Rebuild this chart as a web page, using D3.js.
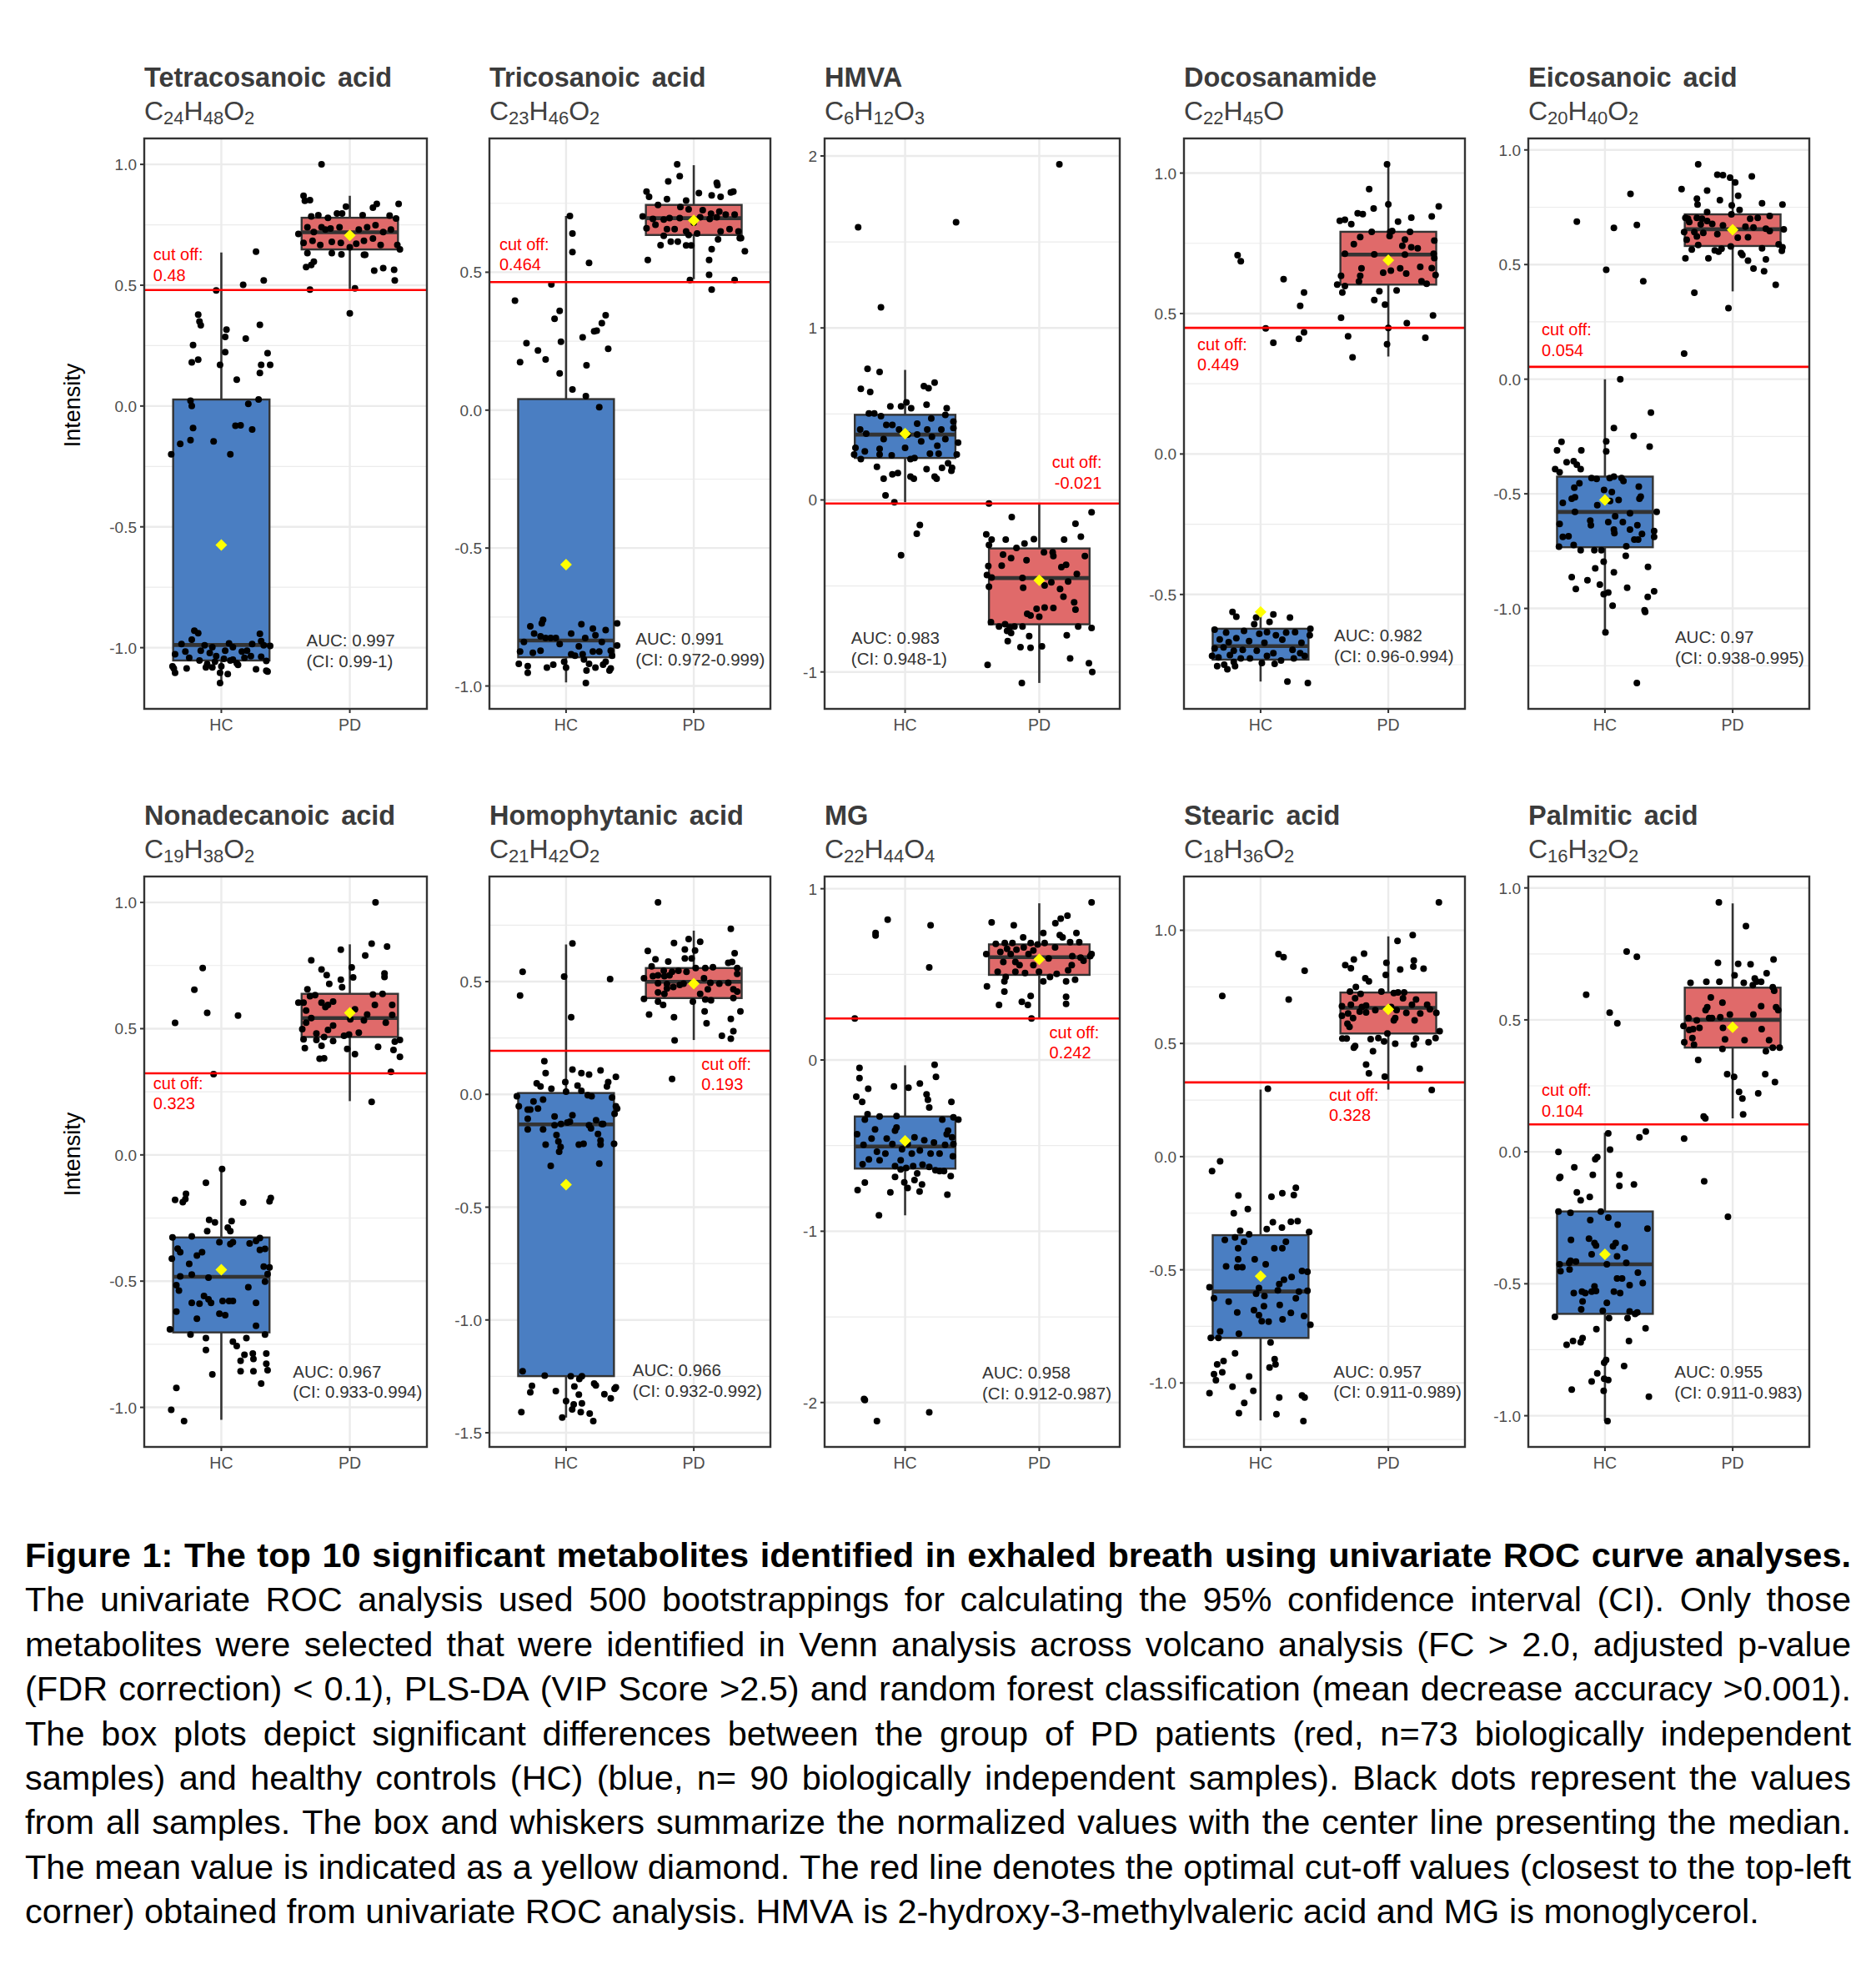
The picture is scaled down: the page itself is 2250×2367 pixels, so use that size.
<!DOCTYPE html>
<html>
<head>
<meta charset="utf-8">
<script src="https://cdnjs.cloudflare.com/ajax/libs/d3/7.8.5/d3.min.js"></script>
<style>
  body { margin: 0; background: #fff; }
  svg text { font-family: "Liberation Sans", Arial, sans-serif; }
</style>
</head>
<body>
<script>
// ---- data ----
var metaboliteNames = ['Tetracosanoic acid', 'Tricosanoic acid', 'HMVA', 'Docosanamide', 'Eicosanoic acid',
  'Nonadecanoic acid', 'Homophytanic acid', 'MG', 'Stearic acid', 'Palmitic acid'];
var formulas = ['C24H48O2', 'C23H46O2', 'C6H12O3', 'C22H45O', 'C20H40O2',
  'C19H38O2', 'C21H42O2', 'C22H44O4', 'C18H36O2', 'C16H32O2'];
var groups = ['HC', 'PD'];

// box stats: [lower whisker, q1, median, q3, upper whisker]
var hcStats = [
  [-1.146, -1.053, -0.989, 0.027, 0.635],
  [-0.987, -0.896, -0.835, 0.04, 0.704],
  [-0.013, 0.244, 0.38, 0.495, 0.756],
  [-0.81, -0.732, -0.684, -0.622, -0.575],
  [-1.104, -0.733, -0.579, -0.425, 0.0],
  [-1.049, -0.703, -0.483, -0.327, -0.056],
  [-1.433, -1.249, -0.133, 0.006, 0.665],
  [-0.907, -0.634, -0.505, -0.33, -0.031],
  [-1.166, -0.801, -0.596, -0.347, 0.296],
  [-1.02, -0.614, -0.426, -0.226, 0.072]
];
var pdStats = [
  [0.484, 0.648, 0.719, 0.779, 0.87],
  [0.475, 0.635, 0.696, 0.744, 0.888],
  [-1.064, -0.723, -0.454, -0.282, -0.026],
  [0.347, 0.603, 0.71, 0.791, 1.031],
  [0.383, 0.581, 0.654, 0.719, 0.873],
  [0.213, 0.467, 0.542, 0.638, 0.834],
  [0.241, 0.427, 0.499, 0.56, 0.726],
  [0.245, 0.497, 0.6, 0.675, 0.915],
  [0.296, 0.544, 0.657, 0.725, 0.973],
  [0.127, 0.395, 0.5, 0.622, 0.941]
];
var hcMeans = [-0.575, -0.56, 0.385, -0.562, -0.527, -0.455, -0.4, -0.472, -0.528, -0.388];
var pdMeans = [0.706, 0.688, -0.467, 0.69, 0.652, 0.563, 0.491, 0.588, 0.651, 0.472];
var cutoffs = [0.48, 0.464, -0.021, 0.449, 0.054, 0.323, 0.193, 0.242, 0.328, 0.104];
var aucValues = ['0.997', '0.991', '0.983', '0.982', '0.97', '0.967', '0.966', '0.958', '0.957', '0.955'];
var ciValues = ['0.99-1', '0.972-0.999', '0.948-1', '0.96-0.994', '0.938-0.995',
  '0.933-0.994', '0.932-0.992', '0.912-0.987', '0.911-0.989', '0.911-0.983'];
var yTicks = [
  [-1, -0.5, 0, 0.5, 1], [-1, -0.5, 0, 0.5], [-1, 0, 1, 2], [-0.5, 0, 0.5, 1], [-1, -0.5, 0, 0.5, 1],
  [-1, -0.5, 0, 0.5, 1], [-1.5, -1, -0.5, 0, 0.5], [-2, -1, 0, 1], [-1, -0.5, 0, 0.5, 1], [-1, -0.5, 0, 0.5, 1]
];
var tickDecimals = [1, 1, 0, 1, 1, 1, 1, 0, 1, 1];

// jittered samples: [jitter offset, intensity]
var hcPoints = [
  [[.27,.639],[.17,.502],[.33,.52],[-.04,.478],[-.18,.378],[-.17,.35],[-.16,.334],[.30,.336],[.04,.316],[.03,.286],[.19,.279],[-.22,.252],[.03,.223],[.36,.219],[-.18,.192],[-.23,.181],[.31,.17],[-.01,.17],[.38,.17],[.30,.137],[.12,.109],[-.24,.022],[-.23,0],[.29,.027],[.21,.009],[-.22,-.091],[-.24,-.141],[.11,-.082],[.15,-.08],[.24,-.097],[-.06,-.146],[-.32,-.157],[-.39,-.2],[.07,-.2],
   [-.21,-.93],[-.18,-.94],[-.23,-.967],[.3,-.943],[-.31,-.985],[.06,-.982],[.24,-.985],[.38,-.993],[.33,-.99],[-.13,-.99],[-.07,-.998],[.09,-.998],[.16,-1.016],[-.09,-1.022],[-.04,-1.035],[.02,-1.046],[-.36,-1.027],[-.28,-1.016],[-.25,-1.042],[-.17,-1.053],[-.11,-1.068],[-.05,-1.058],[.07,-1.053],[.12,-1.064],[.18,-1.042],[.23,-1.035],[.31,-1.038],[.35,-1.055],[-.38,-1.077],[-.36,-1.104],[-.27,-1.086],[-.12,-1.082],[-.07,-1.082],[0,-1.077],[.05,-1.109],[.13,-1.071],[.27,-1.089],[.36,-1.099],[-.01,-1.146],[-.01,-1.104],[.09,-1.05],[.2,-1.013],[.31,-.973],[.35,-1.095],[-.37,-1.086],[.03,-1.013],[-.16,-1.013]],
  [[.03,.704],[.05,.64],[.05,.573],[.18,.534],[-.115,.456],[-.4,.397],[-.05,.36],[-.09,.331],[.31,.344],[.28,.315],[.24,.288],[.22,.286],[.13,.264],[-.31,.243],[-.04,.248],[.33,.222],[-.22,.216],[-.36,.174],[-.16,.184],[.16,.163],[-.05,.133],[.05,.075],[.155,.051],[.26,.011],
   [-.18,-.76],[-.19,-.773],[-.28,-.784],[.12,-.776],[.21,-.792],[.31,-.797],[.4,-.773],[.04,-.81],[-.25,-.81],[-.12,-.826],[-.08,-.826],[-.16,-.826],[-.2,-.82],[-.33,-.84],[.15,-.826],[.23,-.816],[.28,-.84],[.4,-.853],[.1,-.856],[-.36,-.875],[-.26,-.88],[-.2,-.872],[.04,-.885],[.13,-.885],[.21,-.875],[.26,-.875],[.35,-.872],[.36,-.89],[.14,-.904],[.18,-.92],[.23,-.933],[.29,-.923],[.35,-.936],[-.37,-.92],[-.3,-.928],[-.3,-.952],[-.15,-.933],[-.1,-.923],[0,-.933],[.16,-.944],[.34,-.944],[.155,-.989],[-.015,-.912],[.07,-.89],[-.05,-.848],[.31,-.912]],
  [[-.35,1.585],[.38,1.615],[-.18,1.12],[-.28,.762],[-.19,.744],[-.33,.646],[-.26,.628],[.14,.662],[.175,.649],[.22,.682],[-.11,.544],[-.03,.544],[.01,.567],[.045,.533],[.16,.554],[.31,.533],[-.27,.503],[-.23,.503],[-.18,.487],[.195,.474],[.3,.495],[.36,.456],[-.14,.436],[-.095,.436],[-.335,.41],[-.29,.385],[-.045,.41],[.09,.444],[.165,.41],[.27,.41],[.36,.418],[-.16,.354],[.02,.38],[.09,.38],[.2,.367],[.3,.354],[.395,.333],[-.37,.303],[-.3,.282],[-.19,.297],[0,.303],[.12,.341],[.24,.315],[-.38,.264],[-.33,.238],[-.19,.264],[-.1,.259],[.07,.244],[.185,.269],[.25,.269],[.385,.264],[.32,.213],[.04,.238],[-.21,.192],[.16,.179],[.275,.187],[.35,.187],[.345,.169],[-.095,.149],[-.054,.156],[-.16,.123],[.04,.136],[.065,.123],[.22,.136],[.235,.123],[-.146,.026],[-.08,-.013],[.11,-.146],[.087,-.197],[-.03,-.321]],
  [[-.18,.708],[-.155,.686],[.18,.622],[.31,.527],[.34,.575],[.04,.447],[.1,.396],[.3,.41],[.34,.433],
   [-.22,-.562],[-.19,-.579],[-.035,-.582],[.1,-.571],[.23,-.582],[.07,-.598],[-.05,-.606],[-.36,-.625],[-.27,-.636],[-.13,-.63],[-.01,-.64],[.05,-.634],[.12,-.645],[.2,-.636],[.27,-.634],[.39,-.622],[.385,-.645],[-.32,-.66],[-.25,-.67],[-.19,-.656],[-.09,-.666],[.03,-.672],[.17,-.661],[.32,-.672],[-.36,-.692],[-.29,-.688],[-.21,-.7],[-.14,-.697],[-.03,-.7],[.1,-.709],[.25,-.697],[.31,-.709],[-.38,-.719],[-.33,-.724],[-.24,-.716],[-.155,-.728],[-.083,-.728],[.01,-.744],[.11,-.747],[.16,-.735],[.26,-.728],[.345,-.719],[-.34,-.755],[-.26,-.766],[-.2,-.755],[.21,-.81],[.37,-.815],[-.21,-.74],[-.285,-.75],[.05,-.719]],
  [[-.22,.687],[.2,.808],[.07,.66],[.25,.673],[.01,.477],[.3,.427],[.12,0],[.36,-.146],[.07,-.213],[.01,-.271],[.225,-.248],[.35,-.294],[-.34,-.273],[-.375,-.31],[-.185,-.31],[.01,-.315],[-.3,-.362],[-.245,-.358],[-.22,-.373],[-.19,-.392],[-.39,-.392],[-.355,-.406],[-.105,-.431],[-.065,-.435],[.037,-.431],[.07,-.425],[.13,-.431],[.145,-.444],[-.2,-.454],[-.24,-.473],[.265,-.469],[-.007,-.483],[.054,-.492],[-.235,-.515],[-.26,-.521],[.27,-.521],[.28,-.512],[.107,-.527],[-.33,-.54],[.04,-.531],[-.06,-.55],[.405,-.579],[-.235,-.579],[.196,-.585],[.08,-.598],[-.115,-.617],[-.355,-.631],[-.11,-.637],[.026,-.623],[.14,-.623],[.254,-.637],[.385,-.662],[.07,-.656],[.074,-.671],[.196,-.656],[-.33,-.688],[-.285,-.685],[.29,-.675],[.385,-.688],[.23,-.7],[.26,-.7],[-.36,-.731],[-.245,-.723],[-.19,-.746],[-.083,-.746],[-.028,-.746],[.167,-.729],[.163,-.771],[-.01,-.796],[-.076,-.825],[.337,-.819],[.07,-.842],[-.26,-.863],[-.137,-.877],[-.04,-.896],[-.228,-.915],[.174,-.91],[.385,-.925],[-.01,-.938],[.026,-.931],[.335,-.95],[.06,-.988],[.31,-1.008],[.315,-1.015],[.004,-1.104],[.25,-1.325]],
  [[-.36,.523],[-.21,.654],[-.145,.74],[-.11,.563],[.13,.552],[-.06,.32],[.006,-.056],[-.12,-.11],[-.275,-.154],[-.28,-.175],[-.36,-.178],[-.3,-.187],[.17,-.189],[.385,-.171],[.375,-.184],[-.095,-.257],[-.05,-.267],[.08,-.262],[.05,-.288],[.07,-.302],[-.11,-.302],[-.23,-.323],[-.38,-.327],[-.015,-.346],[.07,-.353],[.09,-.346],[.22,-.351],[.27,-.341],[.3,-.329],[-.34,-.371],[-.32,-.385],[-.15,-.385],[-.19,-.399],[.3,-.376],[.34,-.372],[-.385,-.411],[-.25,-.432],[.33,-.442],[.375,-.446],[-.32,-.481],[-.23,-.474],[-.1,-.486],[.36,-.472],[.34,-.502],[-.35,-.516],[-.33,-.537],[.21,-.524],[-.135,-.559],[-.1,-.572],[-.23,-.586],[-.17,-.589],[-.08,-.586],[.01,-.579],[.06,-.579],[.09,-.579],[.27,-.586],[-.35,-.621],[-.19,-.649],[-.015,-.629],[.03,-.635],[.27,-.677],[-.4,-.691],[-.24,-.712],[-.12,-.726],[.09,-.74],[.12,-.757],[.195,-.726],[.34,-.712],[-.12,-.773],[.18,-.792],[.245,-.787],[.35,-.787],[.15,-.816],[.25,-.808],[.35,-.827],[.15,-.857],[.25,-.857],[.36,-.853],[-.07,-.869],[.31,-.906],[-.35,-.923],[-.39,-1.01],[-.29,-1.054]],
  [[.05,.669],[-.34,.544],[-.36,.438],[-.015,.522],[.345,.511],[.04,.342],[-.17,.147],[-.16,.094],[.05,.11],[.12,.094],[.18,.088],[.27,.106],[.39,.078],[.33,.055],[.32,.035],[-.23,.049],[-.2,.035],[-.115,.025],[-.006,.055],[.09,.039],[.12,.016],[0,.012],[.17,-.004],[.2,-.008],[-.385,-.008],[.36,-.014],[-.18,-.023],[-.255,-.031],[-.37,-.053],[-.3,-.067],[-.28,-.067],[-.22,-.063],[.39,-.053],[.4,-.063],[.38,-.086],[-.09,-.098],[-.3,-.108],[.05,-.092],[.235,-.115],[.29,-.131],[.01,-.125],[.03,-.121],[-.09,-.137],[-.04,-.131],[.18,-.137],[.195,-.151],[.28,-.131],[-.3,-.155],[-.18,-.155],[-.075,-.18],[.25,-.176],[-.06,-.209],[.27,-.204],[-.16,-.223],[-.043,-.233],[.1,-.223],[.137,-.219],[.27,-.223],[.376,-.219],[-.054,-.254],[.26,-.307],[-.12,-.317],
   [-.34,-1.227],[-.167,-1.247],[.037,-1.25],[.124,-1.25],[.104,-1.262],[-.267,-1.292],[.22,-1.282],[.233,-1.29],[.065,-1.295],[.39,-1.299],[.38,-1.305],[-.28,-1.321],[-.08,-1.315],[.1,-1.331],[.3,-1.329],[.35,-1.348],[0,-1.36],[.06,-1.374],[.124,-1.37],[.048,-1.397],[-.35,-1.409],[.115,-1.409],[.185,-1.415],[-.03,-1.433],[.213,-1.448]],
  [[-.13,.82],[-.22,.742],[-.22,.727],[.19,.786],[.18,.541],[-.375,.242],[-.3,-1.985],[-.306,-1.979],[-.21,-2.108],[.18,-2.057],[-.34,-.046],[.22,-.028],[-.34,-.106],[.23,-.098],[.11,-.137],[-.275,-.168],[-.083,-.155],[.025,-.162],[.16,-.201],[-.364,-.214],[.17,-.232],[-.32,-.245],[.18,-.278],[.345,-.245],[-.28,-.317],[-.19,-.33],[-.064,-.327],[-.3,-.348],[.277,-.348],[.36,-.335],[.397,-.348],[-.224,-.405],[-.064,-.394],[-.075,-.412],[-.358,-.433],[.32,-.412],[-.25,-.459],[-.137,-.459],[.07,-.451],[.31,-.433],[.35,-.451],[-.31,-.495],[-.095,-.49],[.019,-.49],[.143,-.469],[.215,-.482],[.298,-.495],[.36,-.49],[-.21,-.536],[-.147,-.546],[-.023,-.521],[.05,-.546],[.11,-.528],[.19,-.546],[.257,-.546],[.356,-.562],[-.27,-.58],[-.19,-.585],[-.033,-.585],[-.317,-.608],[-.075,-.619],[.06,-.619],[.13,-.611],[.18,-.624],[.226,-.644],[.257,-.649],[.29,-.649],[-.033,-.639],[.008,-.631],[.09,-.662],[-.075,-.683],[.34,-.678],[-.006,-.714],[.07,-.701],[.126,-.727],[.019,-.747],[-.3,-.716],[-.354,-.76],[-.11,-.773],[.108,-.768],[.315,-.786],[-.195,-.907]],
  [[-.3,.71],[.14,.895],[.18,.881],[.345,.821],[.22,.694],[.057,.3],[-.317,-.021],[-.38,-.064],[-.174,-.172],[.085,-.177],[.17,-.162],[.26,-.17],[.276,-.138],[-.1,-.232],[-.21,-.25],[.096,-.29],[.237,-.288],[.29,-.285],[.167,-.314],[-.16,-.327],[.048,-.32],[.38,-.333],[-.09,-.343],[-.2,-.357],[-.28,-.368],[-.13,-.376],[.198,-.376],[-.176,-.405],[.107,-.405],[.17,-.405],[-.176,-.454],[-.046,-.454],[-.27,-.485],[-.183,-.489],[-.143,-.489],[.04,-.476],[.324,-.505],[.367,-.509],[.243,-.532],[.183,-.544],[.146,-.563],[-.4,-.577],[-.013,-.581],[.135,-.591],[.3,-.596],[.367,-.593],[-.365,-.626],[-.035,-.606],[.03,-.616],[.276,-.626],[-.25,-.641],[.15,-.655],[.026,-.661],[-.052,-.678],[-.183,-.688],[-.013,-.7],[.237,-.69],[.34,-.704],[.172,-.719],[.009,-.727],[.063,-.729],[.39,-.743],[-.317,-.772],[-.33,-.801],[-.17,-.782],[-.39,-.801],[.078,-.821],[-.2,-.869],[.11,-.895],[.117,-.918],[.07,-.932],[-.34,-.918],[-.29,-.903],[-.365,-.961],[-.35,-.988],[-.3,-.953],[-.09,-.971],[-.22,-1.016],[-.4,-1.045],[-.057,-1.035],[-.128,-1.088],[.146,-1.064],[.324,-1.055],[.345,-1.064],[-.17,-1.133],[.124,-1.138],[.335,-1.168]],
  [[-.147,.595],[.037,.527],[.097,.487],[.17,.759],[.25,.739],[.026,.07],[.32,.077],[.27,.055],[.04,.008],[-.364,0],[-.06,-.02],[-.076,-.028],[-.24,-.059],[-.35,-.095],[-.357,-.099],[-.095,-.087],[.113,-.087],[.113,-.129],[.227,-.124],[-.22,-.154],[-.119,-.171],[-.19,-.184],[-.364,-.226],[-.27,-.231],[-.032,-.226],[.026,-.249],[-.115,-.259],[.1,-.276],[.333,-.291],[-.266,-.334],[-.125,-.329],[-.082,-.346],[-.07,-.355],[.084,-.346],[.063,-.358],[.156,-.363],[-.104,-.388],[.095,-.396],[-.27,-.413],[-.227,-.416],[-.355,-.426],[-.28,-.421],[.015,-.426],[.167,-.421],[-.348,-.452],[-.277,-.446],[.258,-.458],[.095,-.48],[.134,-.48],[.296,-.497],[.193,-.505],[-.082,-.51],[-.244,-.535],[-.18,-.53],[-.154,-.535],[-.104,-.53],[-.07,-.527],[.07,-.53],[.119,-.535],[-.175,-.567],[.015,-.572],[-.186,-.597],[-.017,-.602],[.193,-.605],[.236,-.614],[.253,-.609],[.177,-.63],[.032,-.63],[-.392,-.625],[-.067,-.672],[.318,-.669],[-.3,-.731],[-.25,-.717],[-.19,-.722],[-.175,-.706],[.188,-.717],[.009,-.789],[-.006,-.799],[.15,-.812],[-.06,-.839],[-.006,-.86],[.026,-.865],[-.104,-.87],[-.01,-.906],[-.26,-.901],[.344,-.928],[.02,-1.02]]
];
var pdPoints = [
  [[-.22,1.0],[-.36,.87],[-.35,.849],[-.31,.852],[-.03,.825],[.18,.821],[.21,.836],[.38,.836],[-.3,.785],[-.245,.79],[-.1,.797],[-.06,.797],[.1,.79],[.31,.788],[.36,.776],[-.17,.779],[-.4,.712],[-.33,.74],[-.28,.72],[-.22,.74],[-.19,.73],[-.15,.735],[-.08,.74],[.07,.73],[.135,.74],[.2,.748],[.26,.72],[.32,.73],[-.36,.675],[-.29,.684],[-.23,.666],[-.14,.679],[-.07,.675],[0,.657],[.05,.672],[.11,.684],[.18,.693],[.24,.666],[.37,.666],[.39,.648],[-.33,.633],[-.14,.633],[-.065,.628],[.11,.626],[.12,.626],[-.28,.597],[-.3,.584],[-.34,.575],[.19,.56],[.26,.571],[.345,.564],[.35,.52],[-.31,.482],[.04,.487],[0,.383]],
  [[-.13,.891],[-.11,.848],[-.2,.829],[.04,.787],[.18,.824],[.185,.816],[.31,.792],[.29,.789],[.14,.779],[.21,.773],[-.37,.792],[-.35,.773],[-.21,.765],[-.06,.76],[-.28,.744],[-.105,.736],[-.04,.728],[.07,.725],[.135,.712],[.2,.72],[.25,.709],[.32,.709],[-.4,.702],[-.32,.693],[-.235,.691],[-.19,.696],[-.11,.696],[0,.68],[.05,.699],[.125,.693],[.18,.699],[-.37,.659],[-.3,.672],[-.21,.656],[-.15,.656],[-.06,.648],[.026,.64],[.21,.648],[.28,.656],[.35,.648],[.36,.624],[.37,.624],[-.235,.632],[-.04,.635],[.19,.619],[-.18,.611],[-.125,.611],[-.26,.598],[-.06,.597],[-.02,.597],[.14,.584],[.4,.576],[-.36,.544],[.12,.544],[.12,.491],[-.03,.472],[.32,.472],[.14,.437]],
  [[-.375,-.021],[-.205,-.1],[.27,-.138],[.39,-.072],[.31,-.213],[.185,-.231],[-.395,-.2],[-.355,-.231],[-.375,-.262],[-.25,-.231],[-.11,-.254],[-.04,-.228],[-.17,-.279],[.035,-.305],[.1,-.305],[-.27,-.318],[-.21,-.338],[-.095,-.351],[.34,-.326],[.105,-.326],[-.38,-.385],[-.28,-.382],[.165,-.39],[.2,-.377],[.28,-.431],[-.39,-.436],[-.355,-.451],[-.125,-.454],[.04,-.497],[.09,-.479],[.215,-.474],[-.375,-.505],[-.12,-.51],[.155,-.518],[.18,-.562],[.26,-.595],[.27,-.638],[-.02,-.633],[.04,-.626],[.105,-.628],[-.09,-.662],[-.065,-.672],[0,-.679],[-.36,-.71],[-.3,-.736],[-.255,-.723],[-.22,-.741],[-.185,-.736],[-.125,-.736],[-.24,-.762],[-.21,-.774],[.29,-.736],[.39,-.744],[.205,-.787],[-.075,-.792],[-.235,-.821],[-.14,-.856],[-.065,-.859],[.02,-.851],[.23,-.921],[-.385,-.959],[.37,-.949],[.395,-1.0],[-.13,-1.064],[.15,1.951]],
  [[-.01,1.031],[-.15,.943],[0,.889],[-.115,.874],[.395,.881],[.34,.846],[.18,.841],[.076,.827],[-.24,.857],[-.2,.854],[-.38,.83],[-.34,.834],[-.29,.818],[-.13,.791],[.015,.791],[.03,.794],[.17,.791],[-.22,.772],[.01,.776],[.13,.763],[.36,.76],[-.27,.747],[.11,.741],[.18,.736],[.23,.732],[-.34,.713],[-.11,.711],[.13,.71],[.355,.713],[.36,.697],[-.21,.661],[.093,.661],[.25,.666],[.34,.662],[-.22,.634],[-.04,.645],[.02,.653],[.14,.642],[.37,.637],[-.23,.614],[.26,.615],[.3,.606],[-.4,.603],[-.37,.634],[-.34,.598],[-.36,.575],[-.07,.579],[.065,.582],[-.11,.548],[-.026,.532],[-.37,.485],[.35,.493],[.145,.466],[0,.449],[-.315,.419],[.29,.414],[-.01,.391],[-.28,.344]],
  [[-.27,.937],[-.12,.892],[-.076,.89],[-.02,.879],[.15,.885],[.02,.858],[-.4,.829],[-.2,.823],[.043,.8],[-.28,.787],[-.1,.781],[-.275,.762],[-.007,.758],[.23,.767],[.39,.762],[-.2,.729],[.054,.738],[-.01,.719],[.29,.712],[-.37,.704],[-.35,.7],[-.28,.704],[-.24,.7],[-.2,.69],[.137,.7],[.196,.704],[-.34,.685],[-.25,.675],[-.16,.677],[-.076,.671],[.1,.665],[.163,.662],[.26,.656],[.29,.646],[.4,.654],[-.38,.642],[-.3,.642],[-.23,.638],[-.12,.633],[-.28,.623],[-.36,.608],[.04,.617],[.12,.619],[.36,.588],[.39,.575],[-.32,.565],[-.27,.585],[-.14,.562],[-.11,.556],[-.087,.569],[-.015,.579],[.065,.55],[.076,.542],[.12,.517],[.23,.571],[.385,.56],[-.37,.527],[-.19,.527],[.26,.523],[.163,.483],[.246,.471],[.337,.412],[-.3,.377],[-.033,.31],[-.38,.112]],
  [[.2,1.0],[.17,.837],[.29,.825],[-.07,.813],[.12,.79],[-.3,.771],[-.22,.734],[-.18,.712],[.015,.743],[-.07,.694],[.026,.703],[.27,.719],[.27,.705],[-.16,.677],[-.06,.664],[-.33,.656],[-.4,.603],[-.36,.603],[-.31,.629],[-.27,.633],[-.22,.603],[-.17,.594],[-.13,.607],[.18,.635],[.255,.638],[.33,.594],[-.34,.572],[-.19,.586],[.04,.577],[.135,.556],[.195,.594],[-.3,.542],[-.34,.524],[.004,.537],[.11,.533],[.33,.554],[.28,.524],[-.37,.498],[-.13,.512],[-.17,.495],[-.26,.481],[-.2,.467],[-.045,.472],[-.006,.477],[.07,.484],[-.36,.458],[-.26,.455],[-.22,.432],[-.13,.451],[.22,.428],[.35,.449],[.39,.455],[-.35,.423],[-.02,.42],[.34,.416],[.04,.399],[-.235,.381],[-.2,.383],[.39,.388],[.32,.329],[.17,.21]],
  [[-.28,.851],[.29,.734],[-.04,.689],[.05,.677],[-.155,.671],[-.36,.636],[-.07,.642],[.01,.638],[.32,.626],[-.3,.599],[-.07,.603],[-.2,.589],[-.017,.603],[.27,.583],[.3,.587],[-.33,.568],[-.235,.548],[-.17,.544],[-.12,.548],[-.057,.544],[.015,.56],[.09,.56],[.15,.564],[.34,.56],[.34,.534],[-.32,.524],[-.28,.528],[-.23,.524],[-.19,.528],[-.39,.515],[.08,.515],[-.28,.493],[-.21,.489],[-.11,.485],[-.08,.491],[.13,.495],[.2,.491],[.27,.495],[-.21,.47],[-.16,.476],[.11,.466],[.31,.466],[.34,.456],[-.28,.452],[-.23,.446],[.05,.446],[.31,.427],[-.39,.423],[-.28,.411],[-.24,.397],[-.007,.411],[.09,.421],[.135,.417],[.365,.368],[-.35,.354],[-.155,.342],[.085,.368],[.1,.315],[.29,.335],[.31,.28],[.22,.26],[-.15,.239],[.29,.247],[-.17,.068]],
  [[.39,.92],[.21,.843],[.16,.825],[.12,.799],[-.355,.804],[-.19,.786],[.03,.742],[.153,.729],[.174,.716],[.277,.742],[-.12,.716],[-.324,.678],[-.257,.683],[-.2,.683],[-.064,.683],[-.012,.675],[.04,.683],[.23,.688],[.298,.688],[-.24,.649],[-.17,.644],[-.116,.657],[-.395,.619],[-.29,.631],[-.213,.619],[.118,.657],[-.044,.639],[-.08,.619],[.246,.606],[.308,.598],[.38,.606],[.39,.619],[.33,.58],[-.268,.572],[-.178,.572],[-.147,.554],[-.044,.554],[.07,.593],[.242,.554],[-.31,.515],[-.178,.515],[-.106,.508],[-.002,.515],[.215,.523],[-.25,.485],[.08,.485],[.13,.503],[.267,.469],[-.26,.459],[.03,.459],[.2,.459],[-.39,.43],[-.26,.4],[-.064,.374],[.2,.369],[-.13,.34],[-.085,.322],[.2,.327],[-.3,.322],[-.058,.242]],
  [[.396,1.123],[.191,.979],[.072,.953],[-.19,.897],[-.27,.871],[-.337,.846],[-.293,.832],[-.015,.856],[-.02,.803],[.093,.827],[.2,.866],[.196,.84],[.276,.83],[-.18,.788],[-.152,.774],[-.254,.749],[-.3,.729],[-.217,.719],[-.054,.729],[.043,.723],[.076,.725],[.124,.725],[-.26,.7],[.115,.7],[.217,.694],[-.363,.665],[-.293,.671],[-.207,.661],[-.174,.667],[-.102,.647],[.022,.661],[.065,.647],[.185,.671],[.304,.671],[-.363,.622],[-.315,.632],[-.276,.612],[-.224,.641],[-.174,.637],[.043,.602],[.054,.612],[.141,.635],[.25,.632],[.326,.651],[.376,.635],[-.32,.587],[-.304,.573],[.206,.602],[-.007,.544],[.402,.554],[-.36,.522],[-.326,.522],[-.138,.519],[-.078,.524],[-.033,.509],[.217,.522],[.315,.505],[.37,.524],[-.26,.489],[-.27,.481],[.054,.499],[.2,.495],[-.12,.466],[-.174,.407],[-.152,.368],[.246,.388],[-.028,.353],[.34,.294]],
  [[-.108,.945],[.104,.855],[-.115,.716],[.043,.712],[.14,.711],[.32,.729],[.015,.669],[.266,.677],[.173,.657],[.188,.645],[.223,.644],[-.33,.64],[-.206,.644],[-.104,.644],[.087,.64],[.158,.632],[.314,.624],[.325,.61],[-.171,.585],[-.08,.565],[-.199,.548],[.223,.552],[.34,.548],[.357,.537],[-.212,.537],[-.022,.52],[.162,.52],[-.346,.507],[-.184,.507],[-.162,.507],[-.097,.51],[-.281,.498],[-.385,.477],[-.34,.462],[-.31,.465],[-.26,.47],[-.076,.47],[.227,.465],[-.315,.431],[.285,.423],[-.06,.426],[.093,.423],[-.379,.415],[-.303,.406],[.26,.381],[.314,.395],[.368,.395],[-.08,.39],[-.27,.348],[-.043,.294],[.011,.284],[.255,.294],[.331,.264],[.05,.227],[.076,.202],[.2,.222],[.082,.142],[-.227,.134],[-.214,.127],[-.38,.05],[-.223,-.112],[-.037,-.246]]
];

var captionLines = [
  'Figure 1: The top 10 significant metabolites identified in exhaled breath using univariate ROC curve analyses.',
  'The univariate ROC analysis used 500 bootstrappings for calculating the 95% confidence interval (CI). Only those',
  'metabolites were selected that were identified in Venn analysis across volcano analysis (FC > 2.0, adjusted p-value',
  '(FDR correction) < 0.1), PLS-DA (VIP Score >2.5) and random forest classification (mean decrease accuracy >0.001).',
  'The box plots depict significant differences between the group of PD patients (red, n=73 biologically independent',
  'samples) and healthy controls (HC) (blue, n= 90 biologically independent samples). Black dots represent the values',
  'from all samples. The box and whiskers summarize the normalized values with the center line presenting the median.',
  'The mean value is indicated as a yellow diamond. The red line denotes the optimal cut-off values (closest to the top-left',
  'corner) obtained from univariate ROC analysis. HMVA is 2-hydroxy-3-methylvaleric acid and MG is monoglycerol.'
];

// ---- layout ----
var colLeft = [173, 587, 989, 1420, 1833];
var colWidth = [339, 337, 354, 337, 337];
var rowTop = [166, 1051];
var panelH = 684;
// cut-off label anchor: [x in category units, y of first line in data units, text-anchor]
var cutLabelPos = [[0.47, 0.602, 'start'], [0.478, 0.581, 'start'], [2.466, 0.187, 'end'], [0.505, 0.37, 'start'], [0.505, 0.19, 'start'],
  [0.47, 0.262, 'start'], [2.06, 0.11, 'start'], [2.075, 0.129, 'start'], [1.536, 0.248, 'start'], [0.505, 0.211, 'start']];
// AUC label anchor as fraction of the panel
var aucPos = [[0.574, 0.891], [0.52, 0.888], [0.09, 0.886], [0.534, 0.882], [0.522, 0.885],
  [0.526, 0.878], [0.51, 0.876], [0.534, 0.88], [0.532, 0.878], [0.52, 0.879]];

var fillColors = {HC: '#4a7ec2', PD: '#e06a6a'};
var darkGrey = '#333333';

var svg = d3.select('body').append('svg')
  .attr('width', 2250)
  .attr('height', 2367);
svg.append('rect').attr('width', 2250).attr('height', 2367).attr('fill', '#fff');

function drawFormula(sel, f) {
  var parts = f.match(/[A-Z][a-z]?|\d+/g);
  var inSub = false;
  parts.forEach(function(p){
    var isNum = /\d/.test(p);
    var dy = 0;
    if (isNum && !inSub) dy = 5;
    if (!isNum && inSub) dy = -5;
    sel.append('tspan').text(p)
      .attr('dy', dy)
      .style('font-size', isNum ? '22px' : '32px');
    inSub = isNum;
  });
}

metaboliteNames.forEach(function(name, i){
  var col = i % 5, row = Math.floor(i / 5);
  var left = colLeft[col], w = colWidth[col], top = rowTop[row];
  var g = svg.append('g');

  var x = d3.scaleLinear().domain([0.4, 2.6]).range([left, left + w]);
  var allVals = hcPoints[i].concat(pdPoints[i]).map(function(d){ return d[1]; })
    .concat(hcStats[i], pdStats[i]);
  var lo = d3.min(allVals), hi = d3.max(allVals), pad = (hi - lo) * 0.05;
  var y = d3.scaleLinear().domain([lo - pad, hi + pad]).range([top + panelH, top]);

  // grid
  var ticks = yTicks[i];
  var step = ticks[1] - ticks[0];
  var minors = [ticks[0] - step / 2].concat(ticks.map(function(t){ return t + step / 2; }))
    .filter(function(v){ return v > y.domain()[0] && v < y.domain()[1]; });
  g.selectAll('.minor').data(minors).enter().append('line')
    .attr('x1', left).attr('x2', left + w)
    .attr('y1', function(d){ return y(d); }).attr('y2', function(d){ return y(d); })
    .style('stroke', '#ebebeb').style('stroke-width', 1.2);
  g.selectAll('.major').data(ticks).enter().append('line')
    .attr('x1', left).attr('x2', left + w)
    .attr('y1', function(d){ return y(d); }).attr('y2', function(d){ return y(d); })
    .style('stroke', '#ebebeb').style('stroke-width', 2.4);
  g.selectAll('.vmajor').data([1, 2]).enter().append('line')
    .attr('x1', function(d){ return x(d); }).attr('x2', function(d){ return x(d); })
    .attr('y1', top).attr('y2', top + panelH)
    .style('stroke', '#ebebeb').style('stroke-width', 2.4);

  // boxes
  var stats = [hcStats[i], pdStats[i]];
  groups.forEach(function(grp, k){
    var s = stats[k], cx = k + 1;
    g.append('line')
      .attr('x1', x(cx)).attr('x2', x(cx))
      .attr('y1', y(s[0])).attr('y2', y(s[4]))
      .style('stroke', darkGrey).style('stroke-width', 2.6);
    g.append('rect')
      .attr('x', x(cx - 0.375)).attr('width', x(cx + 0.375) - x(cx - 0.375))
      .attr('y', y(s[3])).attr('height', y(s[1]) - y(s[3]))
      .style('fill', fillColors[grp]).style('stroke', darkGrey).style('stroke-width', 2.4);
    g.append('line')
      .attr('x1', x(cx - 0.375)).attr('x2', x(cx + 0.375))
      .attr('y1', y(s[2])).attr('y2', y(s[2]))
      .style('stroke', darkGrey).style('stroke-width', 4.6);
  });

  // jittered points
  var pts = hcPoints[i].map(function(d){ return {g: 1, dx: d[0], v: d[1]}; })
    .concat(pdPoints[i].map(function(d){ return {g: 2, dx: d[0], v: d[1]}; }));
  g.selectAll('circle').data(pts).enter().append('circle')
    .attr('cx', function(d){ return x(d.g + d.dx); })
    .attr('cy', function(d){ return y(d.v); })
    .attr('r', 4)
    .style('fill', '#000');

  // cut-off line
  g.append('line')
    .attr('x1', left).attr('x2', left + w)
    .attr('y1', y(cutoffs[i])).attr('y2', y(cutoffs[i]))
    .style('stroke', '#ff0000').style('stroke-width', 2.6);

  // means
  var means = [hcMeans[i], pdMeans[i]];
  g.selectAll('.mean').data(means).enter().append('path')
    .attr('d', function(d, k){
      var cx = x(k + 1), cy = y(d), r = 7;
      return 'M' + cx + ',' + (cy - r) + 'L' + (cx + r) + ',' + cy + 'L' + cx + ',' + (cy + r) + 'L' + (cx - r) + ',' + cy + 'Z';
    })
    .style('fill', '#ffff00');

  // frame
  g.append('rect')
    .attr('x', left).attr('y', top).attr('width', w).attr('height', panelH)
    .style('fill', 'none').style('stroke', darkGrey).style('stroke-width', 2.4);

  // y axis
  g.selectAll('.ytick').data(ticks).enter().append('line')
    .attr('x1', left - 5).attr('x2', left)
    .attr('y1', function(d){ return y(d); }).attr('y2', function(d){ return y(d); })
    .style('stroke', darkGrey).style('stroke-width', 2);
  g.selectAll('.ylab').data(ticks).enter().append('text')
    .attr('x', left - 9)
    .attr('y', function(d){ return y(d) + 7; })
    .attr('text-anchor', 'end')
    .style('font-size', '19px').style('fill', '#4d4d4d')
    .text(function(d){ return d.toFixed(tickDecimals[i]); });

  // x axis
  g.selectAll('.xtick').data([1, 2]).enter().append('line')
    .attr('x1', function(d){ return x(d); }).attr('x2', function(d){ return x(d); })
    .attr('y1', top + panelH).attr('y2', top + panelH + 5)
    .style('stroke', darkGrey).style('stroke-width', 2);
  g.selectAll('.xlab').data(groups).enter().append('text')
    .attr('x', function(d, k){ return x(k + 1); })
    .attr('y', top + panelH + 26)
    .attr('text-anchor', 'middle')
    .style('font-size', '19.5px').style('fill', '#4d4d4d')
    .text(function(d){ return d; });

  // cut-off label
  var cp = cutLabelPos[i];
  var ct = g.append('text')
    .attr('text-anchor', cp[2])
    .style('font-size', '20px').style('fill', '#ff0000');
  ct.append('tspan').attr('x', x(cp[0])).attr('y', y(cp[1])).text('cut off:');
  ct.append('tspan').attr('x', x(cp[0])).attr('y', y(cp[1]) + 24.7).text(String(cutoffs[i]));

  // AUC label
  var ap = aucPos[i];
  var at = g.append('text').style('font-size', '20.5px').style('fill', darkGrey);
  at.append('tspan').attr('x', left + ap[0] * w).attr('y', top + ap[1] * panelH).text('AUC: ' + aucValues[i]);
  at.append('tspan').attr('x', left + ap[0] * w).attr('y', top + ap[1] * panelH + 24.7).text('(CI: ' + ciValues[i] + ')');

  // titles
  g.append('text')
    .attr('x', left).attr('y', top - 62)
    .style('font-size', '32.5px').style('font-weight', 'bold').style('fill', '#3b3b3b')
    .style('word-spacing', '5px')
    .text(name);
  var ft = g.append('text')
    .attr('x', left).attr('y', top - 22)
    .style('fill', '#404040');
  drawFormula(ft, formulas[i]);

  if (col === 0) {
    var cy = row === 0 ? 486 : 1384;
    g.append('text')
      .attr('transform', 'translate(96,' + cy + ') rotate(-90)')
      .attr('text-anchor', 'middle')
      .style('font-size', '27px').style('fill', '#000')
      .text('Intensity');
  }
});

// caption, justified line by line
var capLeft = 30, capRight = 2220, capSize = 41.5;
captionLines.forEach(function(line, li){
  var t = svg.append('text')
    .attr('y', 1879 + li * 53.4)
    .style('font-size', capSize + 'px')
    .style('font-weight', li === 0 ? 'bold' : 'normal')
    .style('fill', '#000');
  var words = line.split(' ');
  var spans = words.map(function(wd){ return t.append('tspan').text(wd); });
  var widths = spans.map(function(s){ return s.node().getComputedTextLength(); });
  var total = d3.sum(widths);
  var isLast = li === captionLines.length - 1;
  var gap = isLast ? capSize * 0.278 : (capRight - capLeft - total) / (words.length - 1);
  var minGap = capSize * 0.2;
  var squeeze = 1;
  if (gap < minGap) {
    gap = minGap;
    squeeze = (capRight - capLeft) / (total + gap * (words.length - 1));
  }
  var xx = 0;
  spans.forEach(function(s, k){
    s.attr('x', xx);
    xx += widths[k] + gap;
  });
  t.attr('transform', 'translate(' + capLeft + ',0) scale(' + squeeze + ',1)');
});
</script>
</body>
</html>
